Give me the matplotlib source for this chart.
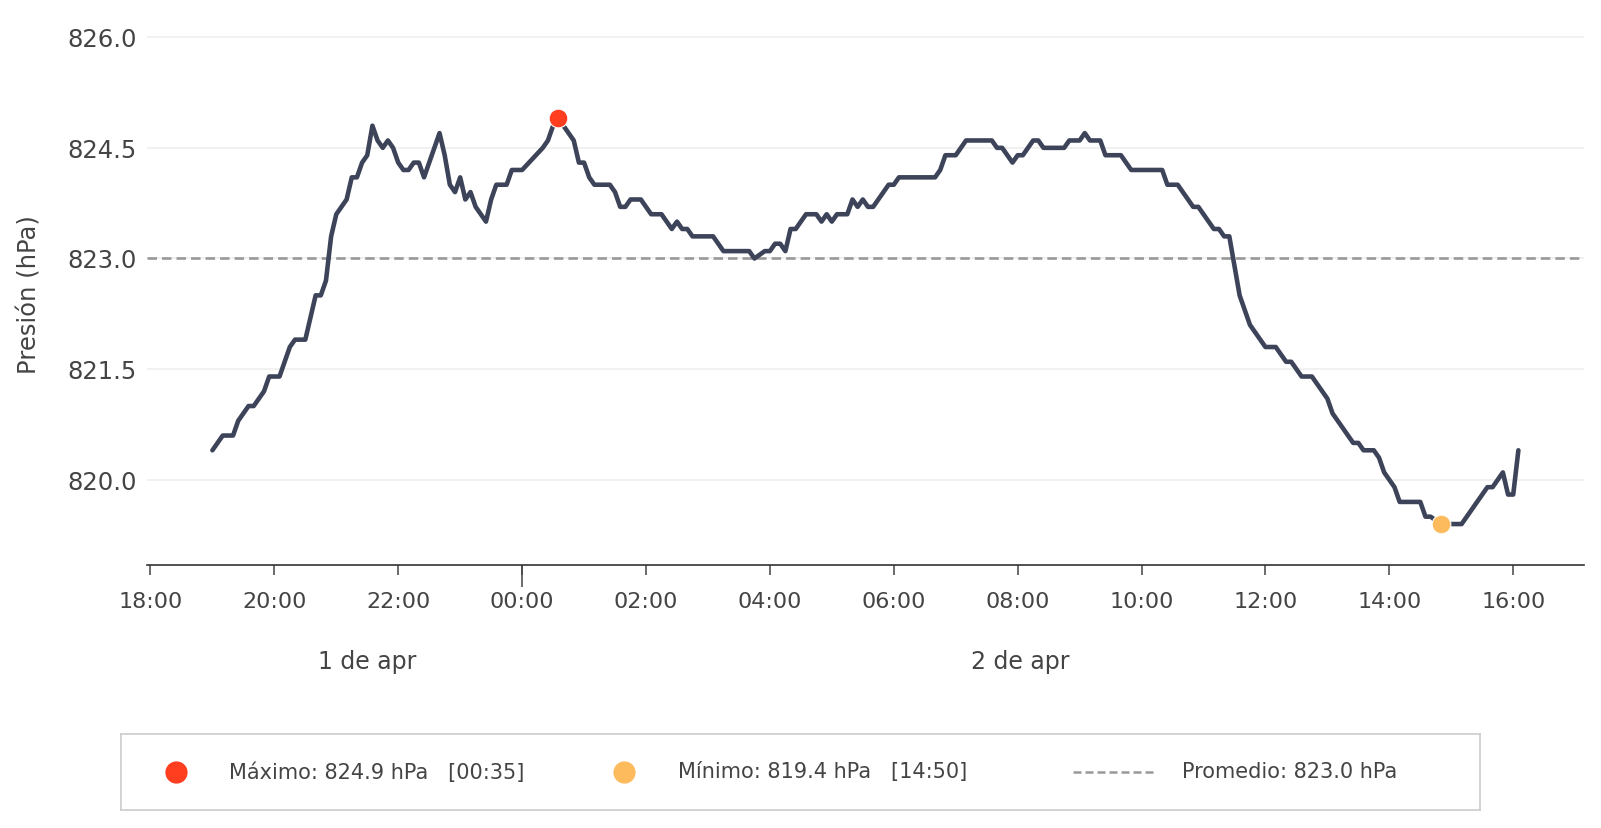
import matplotlib
matplotlib.use("Agg")
import matplotlib.pyplot as plt
import matplotlib.dates as mdates
from matplotlib.ticker import FixedLocator, FormatStrFormatter, NullFormatter
import pandas as pd
import numpy as np

# ---------------- data ----------------
day1_times = ["19:00", "19:10", "19:20", "19:25", "19:35", "19:40", "19:50", "19:55",
              "20:05", "20:15", "20:20", "20:30", "20:40", "20:45", "20:50", "20:55",
              "21:00", "21:10", "21:15", "21:20", "21:25", "21:30", "21:35", "21:40",
              "21:45", "21:50", "21:55", "22:00", "22:05", "22:10", "22:15", "22:20",
              "22:25", "22:40", "22:45", "22:50", "22:55", "23:00", "23:05", "23:10",
              "23:15", "23:25", "23:30", "23:35", "23:45", "23:50"]
day1_values = [820.4, 820.6, 820.6, 820.8, 821.0, 821.0, 821.2, 821.4,
               821.4, 821.8, 821.9, 821.9, 822.5, 822.5, 822.7, 823.3,
               823.6, 823.8, 824.1, 824.1, 824.3, 824.4, 824.8, 824.6,
               824.5, 824.6, 824.5, 824.3, 824.2, 824.2, 824.3, 824.3,
               824.1, 824.7, 824.4, 824.0, 823.9, 824.1, 823.8, 823.9,
               823.7, 823.5, 823.8, 824.0, 824.0, 824.2]

day2_times = ["00:00", "00:20", "00:25", "00:30", "00:35", "00:40", "00:50", "00:55",
              "01:00", "01:05", "01:10", "01:25", "01:30", "01:35", "01:40", "01:45",
              "01:55", "02:05", "02:15", "02:25", "02:30", "02:35", "02:40", "02:45",
              "03:05", "03:15", "03:40", "03:45", "03:55", "04:00", "04:05", "04:10",
              "04:15", "04:20", "04:25", "04:35", "04:45", "04:50", "04:55", "05:00",
              "05:05", "05:15", "05:20", "05:25", "05:30", "05:35", "05:40", "05:55",
              "06:00", "06:05", "06:40", "06:45", "06:50", "07:00", "07:10", "07:35",
              "07:40", "07:45", "07:55", "08:00", "08:05", "08:15", "08:20", "08:25",
              "08:45", "08:50", "09:00", "09:05", "09:10", "09:20", "09:25", "09:40",
              "09:50", "10:20", "10:25", "10:35", "10:50", "10:55", "11:10", "11:15",
              "11:20", "11:25", "11:35", "11:40", "11:45", "12:00", "12:10", "12:20",
              "12:25", "12:35", "12:45", "13:00", "13:05", "13:25", "13:30", "13:35",
              "13:45", "13:50", "13:55", "14:05", "14:10", "14:30", "14:35", "14:40",
              "14:50", "15:10", "15:35", "15:40", "15:50", "15:55", "16:00", "16:05"]
day2_values = [824.2, 824.5, 824.6, 824.8, 824.9, 824.8, 824.6, 824.3,
               824.3, 824.1, 824.0, 824.0, 823.9, 823.7, 823.7, 823.8,
               823.8, 823.6, 823.6, 823.4, 823.5, 823.4, 823.4, 823.3,
               823.3, 823.1, 823.1, 823.0, 823.1, 823.1, 823.2, 823.2,
               823.1, 823.4, 823.4, 823.6, 823.6, 823.5, 823.6, 823.5,
               823.6, 823.6, 823.8, 823.7, 823.8, 823.7, 823.7, 824.0,
               824.0, 824.1, 824.1, 824.2, 824.4, 824.4, 824.6, 824.6,
               824.5, 824.5, 824.3, 824.4, 824.4, 824.6, 824.6, 824.5,
               824.5, 824.6, 824.6, 824.7, 824.6, 824.6, 824.4, 824.4,
               824.2, 824.2, 824.0, 824.0, 823.7, 823.7, 823.4, 823.4,
               823.3, 823.3, 822.5, 822.3, 822.1, 821.8, 821.8, 821.6,
               821.6, 821.4, 821.4, 821.1, 820.9, 820.5, 820.5, 820.4,
               820.4, 820.3, 820.1, 819.9, 819.7, 819.7, 819.5, 819.5,
               819.4, 819.4, 819.9, 819.9, 820.1, 819.8, 819.8, 820.4]

day1_date = "2024-04-01"
day2_date = "2024-04-02"
day_labels = ["1 de apr", "2 de apr"]
mean_value = 823.0
y_ticks = [820.0, 821.5, 823.0, 824.5, 826.0]
y_label = "Presión (hPa)"

# ---------------- build series ----------------
times = pd.to_datetime([f"{day1_date} {t}" for t in day1_times] +
                       [f"{day2_date} {t}" for t in day2_times])
values = np.array(day1_values + day2_values)
imax = int(np.argmax(values))
imin = int(np.argmin(values))

LINE = "#3d4459"
RED = "#ff3d1f"
ORANGE = "#fdbb5e"
GRAY = "#999999"
TXT = "#444444"

fig = plt.figure(figsize=(16.01, 8.285), dpi=100)
ax = fig.add_axes([0.09188, 0.31763, 0.8973, 0.65423])

ax.plot(times, values, color=LINE, lw=3.3, solid_joinstyle="round",
        solid_capstyle="round", zorder=3)
ax.axhline(mean_value, color=GRAY, lw=1.9, dashes=(3.6, 1.9), zorder=2)
ax.plot(times[imax], values[imax], "o", color=RED, ms=13.5, mec="white", mew=0.8, zorder=4)
ax.plot(times[imin], values[imin], "o", color=ORANGE, ms=13.5, mec="white", mew=0.8, zorder=4)

# axes limits: 5 % margin on time axis, fixed pressure range
ax.margins(x=0.05)
ax.set_ylim(818.847, 826.195)

# y axis
ax.yaxis.set_major_locator(FixedLocator(y_ticks))
ax.yaxis.set_major_formatter(FormatStrFormatter("%.1f"))
ax.tick_params(axis="y", length=0, pad=7.4, labelsize=17.5, labelcolor=TXT)
ax.yaxis.grid(True, color="#eeeeee", lw=1.1, zorder=0)
ax.set_ylabel(y_label, fontsize=17.5, color=TXT)
ax.yaxis.set_label_coords(-0.0735, 0.5)

# x axis
ax.xaxis.remove_overlapping_locs = False
ax.xaxis.set_minor_locator(mdates.HourLocator(byhour=range(0, 24, 2)))
ax.xaxis.set_minor_formatter(mdates.DateFormatter("%H:%M"))
ax.xaxis.set_major_locator(mdates.DayLocator())
ax.xaxis.set_major_formatter(NullFormatter())
ax.tick_params(axis="x", which="minor", length=6.9, width=1.1, color="#444444",
               pad=12, labelsize=16, labelcolor=TXT)
ax.tick_params(axis="x", which="major", length=16, width=1.1, color="#444444")

for s in ["left", "top", "right"]:
    ax.spines[s].set_visible(False)
ax.spines["bottom"].set_color("#333333")
ax.spines["bottom"].set_linewidth(1.2)

# day labels at the middle of each day's data span
day_starts = [times[0], pd.Timestamp(day2_date)]
day_ends = [pd.Timestamp(day2_date), times[-1]]
for lab, a, b in zip(day_labels, day_starts, day_ends):
    mid = a + (b - a) / 2
    ax.text(mdates.date2num(mid), -0.1783, lab, transform=ax.get_xaxis_transform(),
            ha="center", va="center", fontsize=17, color=TXT)

# ---------------- legend box ----------------
lax = fig.add_axes([0.0753, 0.0221, 0.8494, 0.0913])
lax.set_xlim(0, 1)
lax.set_ylim(0, 1)
lax.set_xticks([])
lax.set_yticks([])
for s in lax.spines.values():
    s.set_color("#cccccc")
    s.set_linewidth(1.2)

ly = 0.5
lax.plot([0.0405], [ly], "o", color=RED, ms=15, clip_on=False)
lax.text(0.0796, ly, f"Máximo: {values[imax]:.1f} hPa   [{times[imax]:%H:%M}]",
         va="center", ha="left", fontsize=15, color=TXT)
lax.plot([0.3701], [ly], "o", color=ORANGE, ms=15, clip_on=False)
lax.text(0.4099, ly, f"Mínimo: {values[imin]:.1f} hPa   [{times[imin]:%H:%M}]",
         va="center", ha="left", fontsize=15, color=TXT)
lax.plot([0.7004, 0.7605], [ly, ly], color=GRAY, lw=1.8, dashes=(3.2, 1.6))
lax.text(0.7808, ly, f"Promedio: {mean_value:.1f} hPa",
         va="center", ha="left", fontsize=15, color=TXT)

fig.savefig("out.png", dpi=100, facecolor="white")
